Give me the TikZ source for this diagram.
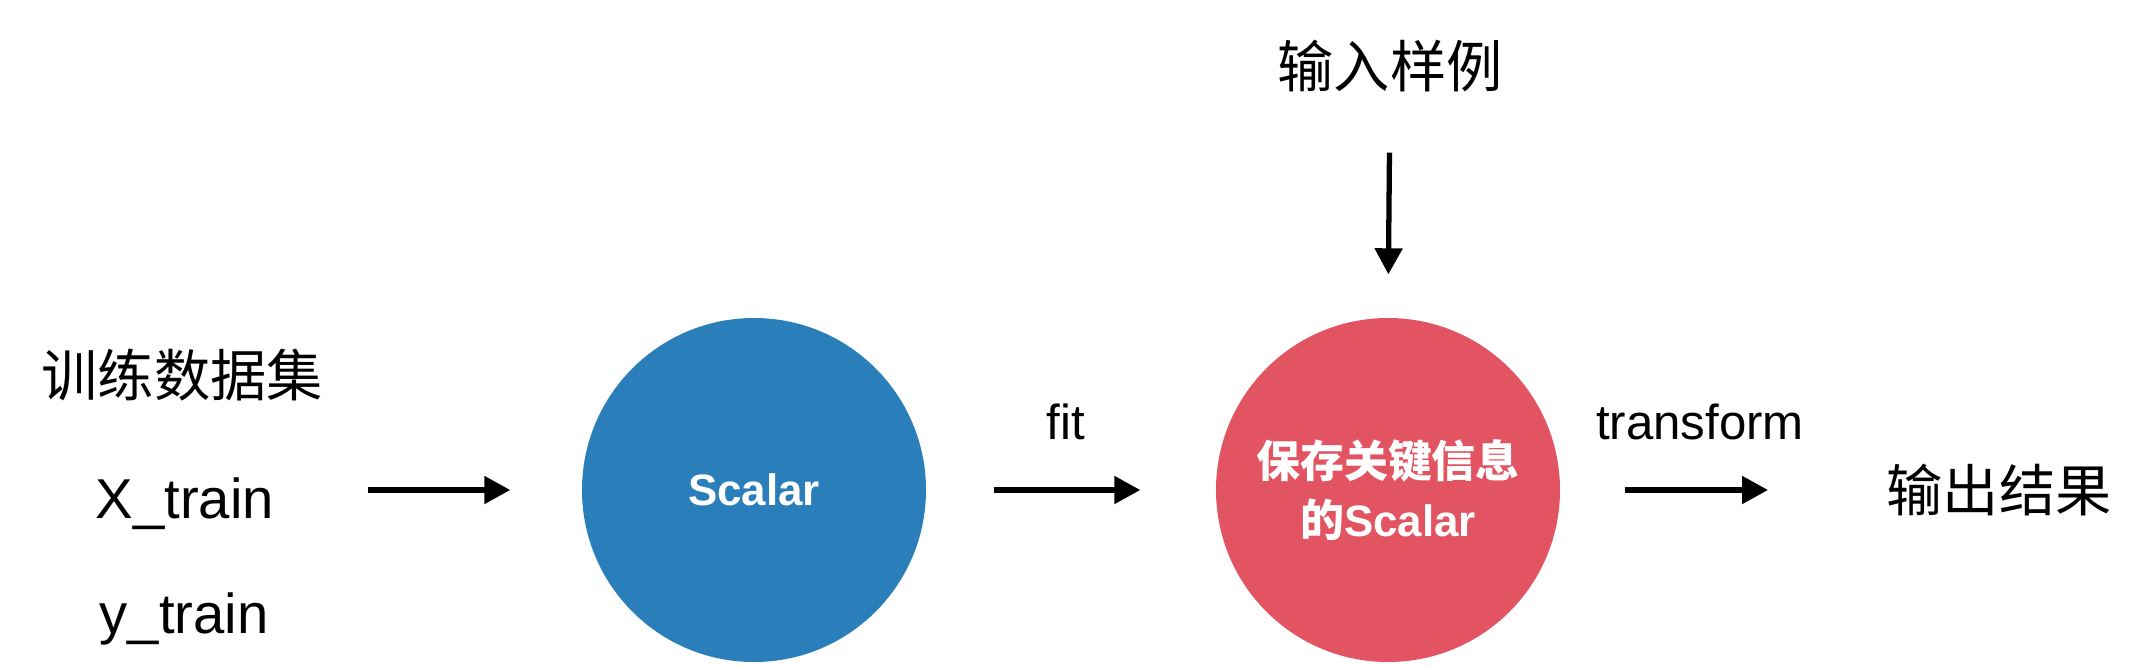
\documentclass[tikz,border=0pt]{standalone}
\usepackage{fontspec}
\setmainfont{Liberation Sans}
\newfontfamily\cjk{Noto Sans CJK SC}
\definecolor{ScalarBlue}{RGB}{42, 127, 186}
\definecolor{KeyRed}{RGB}{226, 84, 97}
\usetikzlibrary{arrows.meta, positioning}

\begin{document}
\begin{tikzpicture}[
    every node/.style={align=center, inner sep=0pt},
    lbl/.style={font=\fontsize{16}{19}\selectfont\cjk},
    word/.style={font=\fontsize{16}{19}\selectfont},
    tag/.style={font=\fontsize{14}{17}\selectfont},
    ball/.style={circle, minimum size=3.44cm, text=white,
                 font=\fontsize{12.5}{17}\selectfont\bfseries},
    arr/.style={-{Triangle[length=0.26cm, width=0.27cm]}, line width=1.5pt}
]
\useasboundingbox (0,0) rectangle (21.36,6.66);
\node[lbl, anchor=west] (trainset) at (0.41,2.91) {训练数据集};
\node[word, anchor=base west] (xtrain) at (0.95,1.48) {X\_train};
\node[word, anchor=base west] (ytrain) at (0.99,0.33) {y\_train};
\node[ball, fill=ScalarBlue] (scalar) at (7.54,1.76) {Scalar};
\node[ball, fill=KeyRed] (keep) at (13.88,1.76) {{\cjk 保存关键信息}\\{\cjk 的}Scalar};
\node[lbl] (input) at (13.90,6.00) {输入样例};
\node[lbl, anchor=west] (output) at (18.86,1.76) {输出结果};
\node[tag] (fit) at (10.66,2.44) {fit};
\node[tag] (trans) at (17.00,2.44) {transform};
\draw[arr, shorten <=0.93cm, shorten >=0.71cm] (xtrain.east |- scalar.west) -- (scalar.west);
\draw[arr, shorten <=0.67cm, shorten >=0.75cm] (scalar.east) -- (keep.west);
\draw[arr, shorten <=0.64cm, shorten >=1.18cm] (keep.east) -- (output.west);
\draw[arr, shorten <=0.60cm, shorten >=0.43cm] (input.south) -- (keep.north);
\end{tikzpicture}
\end{document}
